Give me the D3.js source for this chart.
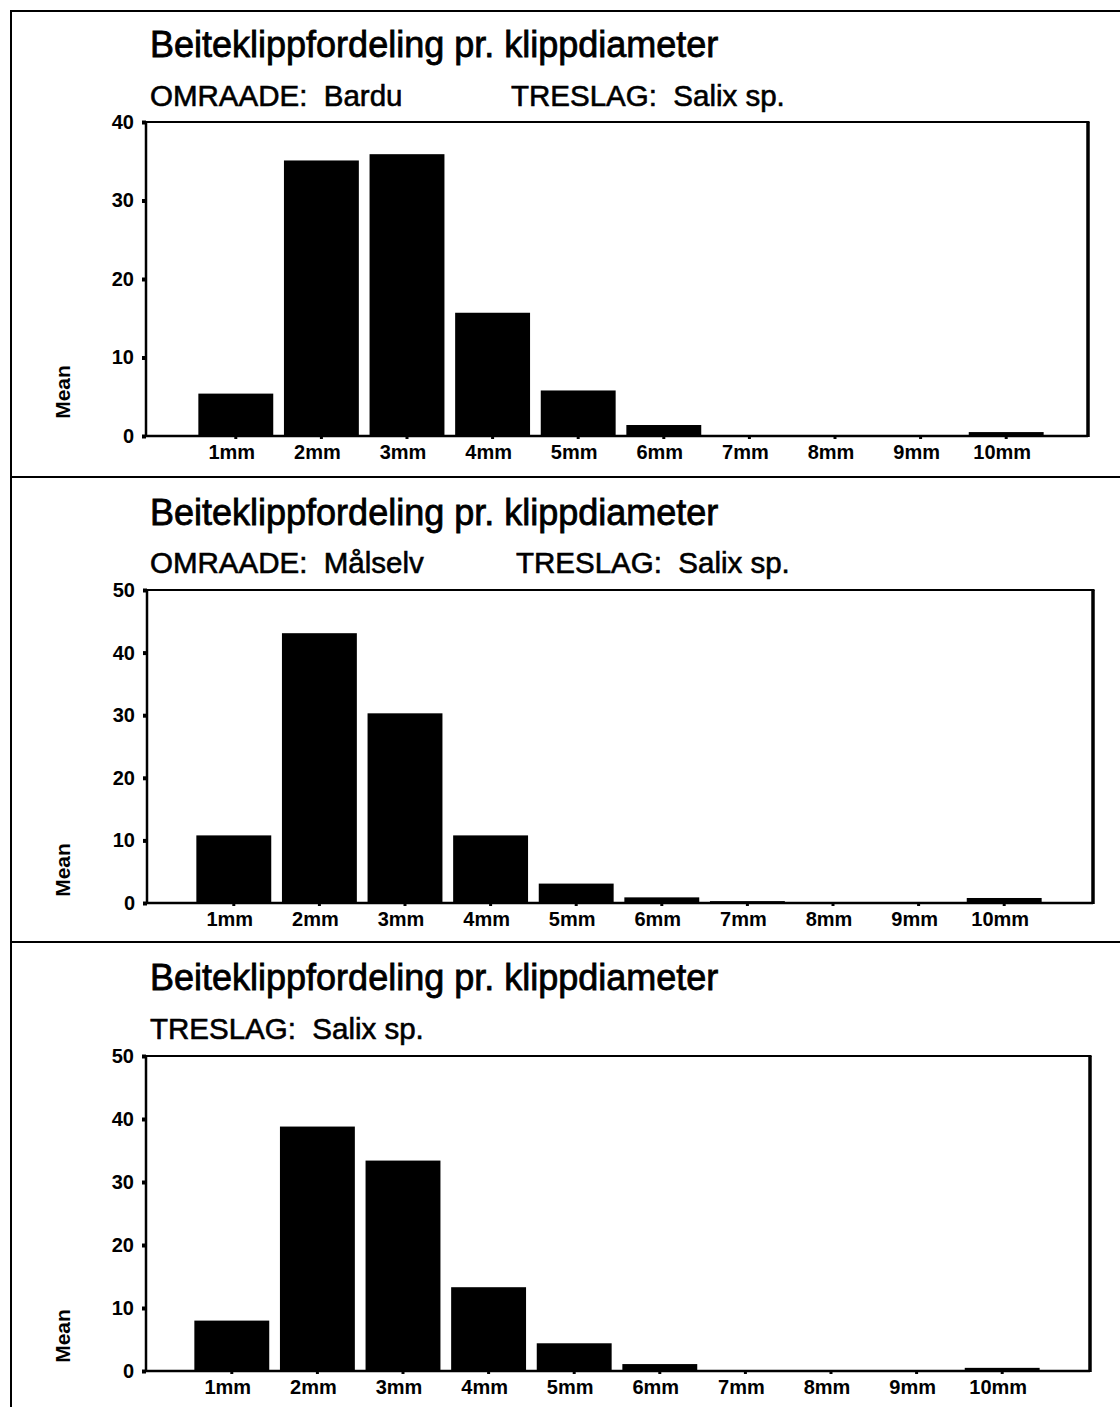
<!DOCTYPE html>
<html>
<head>
<meta charset="utf-8">
<script src="https://cdn.jsdelivr.net/npm/d3@7"></script>
<style>
  html, body { margin: 0; padding: 0; background: #fff; }
  svg { display: block; }
  text { font-family: "Liberation Sans", Arial, sans-serif; fill: #000; }
</style>
</head>
<body>
<svg id="chart" width="1120" height="1407"></svg>
<script>
// ---- data ----
const categories = ["1mm", "2mm", "3mm", "4mm", "5mm", "6mm", "7mm", "8mm", "9mm", "10mm"];
const titleText = "Beiteklippfordeling pr. klippdiameter";
const omraadeLabels = ["OMRAADE:  Bardu", "OMRAADE:  Målselv", null];
const treslagLabel = "TRESLAG:  Salix sp.";
const yLabel = "Mean";
const yTicks1 = [0, 10, 20, 30, 40];
const yTicks2 = [0, 10, 20, 30, 40, 50];
const yTicks3 = [0, 10, 20, 30, 40, 50];
const valuesBardu = [5.4, 35.1, 35.9, 15.7, 5.8, 1.4, 0.1, 0, 0, 0.5];
const valuesMalselv = [10.8, 43.1, 30.3, 10.8, 3.1, 0.9, 0.3, 0, 0, 0.8];
const valuesAll = [8.0, 38.8, 33.4, 13.3, 4.4, 1.1, 0.1, 0, 0, 0.5];

// ---- layout ----
const panels = [
  { values: valuesBardu, ticks: yTicks1, omraade: omraadeLabels[0],
    titleY: 57, subY: 106, treslagX: 511,
    left: 146, right: 1088, top: 122, bottom: 436, bandL: 193, bandR: 1049, meanY: 392 },
  { values: valuesMalselv, ticks: yTicks2, omraade: omraadeLabels[1],
    titleY: 525, subY: 573, treslagX: 516,
    left: 147, right: 1093, top: 590, bottom: 903, bandL: 191, bandR: 1047, meanY: 870 },
  { values: valuesAll, ticks: yTicks3, omraade: omraadeLabels[2],
    titleY: 990, subY: 1039, treslagX: 150,
    left: 146, right: 1090, top: 1056, bottom: 1371, bandL: 189, bandR: 1045, meanY: 1336 }
];

const svg = d3.select("#chart");

// outer frame
svg.append("line").attr("x1", 11).attr("x2", 11).attr("y1", 11).attr("y2", 1407)
  .attr("stroke", "#000").attr("stroke-width", 2);
[11, 477, 942].forEach(y => {
  svg.append("line").attr("x1", 10).attr("x2", 1120).attr("y1", y).attr("y2", y)
    .attr("stroke", "#000").attr("stroke-width", 2);
});

panels.forEach(p => {
  const g = svg.append("g");

  const x = d3.scaleBand().domain(categories).range([p.bandL, p.bandR]).paddingInner(0.125).paddingOuter(0.0625);
  const y = d3.scaleLinear().domain([0, d3.max(p.ticks)]).range([p.bottom, p.top]);

  // title
  g.append("text").attr("x", 150).attr("y", p.titleY)
    .attr("font-size", 36).attr("stroke", "#000").attr("stroke-width", 0.8).text(titleText);
  if (p.omraade) {
    g.append("text").attr("x", 150).attr("y", p.subY).attr("font-size", 29.5)
      .attr("stroke", "#000").attr("stroke-width", 0.6)
      .style("white-space", "pre").text(p.omraade);
  }
  g.append("text").attr("x", p.treslagX).attr("y", p.subY).attr("font-size", 29.5)
    .attr("stroke", "#000").attr("stroke-width", 0.6)
    .style("white-space", "pre").text(treslagLabel);

  // bars
  g.selectAll("rect.bar").data(p.values).join("rect")
    .attr("class", "bar")
    .attr("x", (d, i) => x(categories[i]))
    .attr("width", x.bandwidth())
    .attr("y", d => y(d))
    .attr("height", d => p.bottom - y(d))
    .attr("fill", "#000");

  // frame top & right
  g.append("line").attr("x1", p.left).attr("x2", p.right + 1.5).attr("y1", p.top).attr("y2", p.top)
    .attr("stroke", "#000").attr("stroke-width", 2);
  g.append("line").attr("x1", p.right).attr("x2", p.right).attr("y1", p.top).attr("y2", p.bottom + 1)
    .attr("stroke", "#000").attr("stroke-width", 3.5);

  // y axis
  const ya = g.append("g").attr("transform", `translate(${p.left},0)`)
    .call(d3.axisLeft(y).tickValues(p.ticks).tickFormat(d3.format("d")).tickSize(4).tickPadding(8));
  ya.select(".domain").attr("stroke-width", 2.5).attr("d", `M0,${p.top}V${p.bottom + 1}`);
  ya.selectAll(".tick line").attr("stroke-width", 4);
  ya.selectAll(".tick text").attr("font-size", 20).attr("font-weight", "bold")
    .attr("font-family", "'Liberation Sans', Arial, sans-serif");

  // x axis
  const xa = g.append("g").attr("transform", `translate(0,${p.bottom})`)
    .call(d3.axisBottom(x).tickSize(3).tickPadding(6));
  xa.select(".domain").attr("stroke-width", 2.5).attr("d", `M${p.left},0H${p.right}`);
  xa.selectAll(".tick line").attr("stroke-width", 3);
  xa.selectAll(".tick text").attr("font-size", 20).attr("font-weight", "bold")
    .attr("font-family", "'Liberation Sans', Arial, sans-serif").attr("dx", -4);

  // y label
  g.append("text").attr("transform", `translate(70,${p.meanY}) rotate(-90)`)
    .attr("text-anchor", "middle").attr("font-size", 21).attr("font-weight", "bold")
    .text(yLabel);
});
</script>
</body>
</html>
